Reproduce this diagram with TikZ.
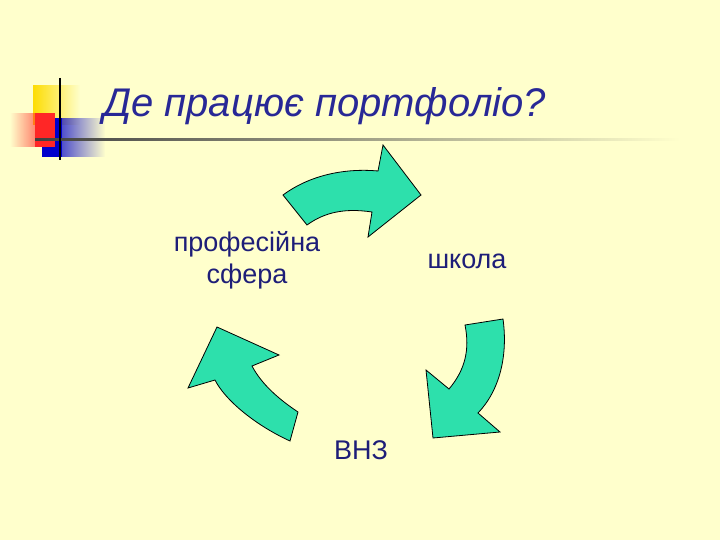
\documentclass[tikz,border=0pt]{standalone}
\usepackage{fontspec}
\setmainfont{Liberation Sans}
\usetikzlibrary{fadings}
\definecolor{bg}{RGB}{255,255,204}
\definecolor{arr}{RGB}{45,224,172}
\definecolor{txt}{RGB}{30,30,120}
\definecolor{ttl}{RGB}{40,40,150}
\tikzset{arrowshape/.style={fill=arr,draw=black,line width=0.8pt,line join=miter},
lbl/.style={text=txt,font=\fontsize{27}{32}\selectfont,align=center,inner sep=0pt}}
\begin{document}
\begin{tikzpicture}[x=1pt,y=-1pt]
\fill[bg] (0,0) rectangle (720,540);
\useasboundingbox (0,0) rectangle (720,540);
% logo
\fill[yellow!80!orange,path fading=east] (33,85) rectangle (80,125);
\fill[red!85,path fading=west] (10,113) rectangle (55,147);
\fill[blue!80!black,path fading=east] (42,118) rectangle (105,157);
\fill[blue!80!black] (42,118) rectangle (62,157);
\fill[red!85] (35,113) rectangle (55,147);
\shade[left color=black!75,right color=bg] (35,138.5) rectangle (680,141);
\draw[black,line width=2pt] (60,78) -- (60,160);
\node[anchor=base west,inner sep=0pt,text=ttl,font=\fontsize{40}{44}\selectfont\itshape] (title) at (103,117) {Де працює портфоліо?};
% top arrow
\draw[arrowshape] (283,195) .. controls (310,175) and (345,168) .. (378,171) -- (383,145) -- (421,195) -- (368,237) -- (372,212) .. controls (345,208) and (325,212) .. (307,225) -- cycle;
% right arrow
\draw[arrowshape] (465,325) -- (503,319) .. controls (508,355) and (500,390) .. (478,413) -- (500,432) -- (433,438) -- (426,370) -- (449,389) .. controls (465,370) and (470,350) .. (465,325) -- cycle;
% left arrow
\draw[arrowshape] (217,327) -- (279,355) -- (252,366) .. controls (262,385) and (280,400) .. (298,412) -- (290,441) .. controls (255,425) and (225,400) .. (215,380) -- (188,388) -- cycle;
\node[lbl] (prof) at (247,260) {професійна\\сфера};
\node[lbl] (shk) at (467,261) {школа};
\node[lbl] (vnz) at (361,450) {ВНЗ};
\end{tikzpicture}
\end{document}
